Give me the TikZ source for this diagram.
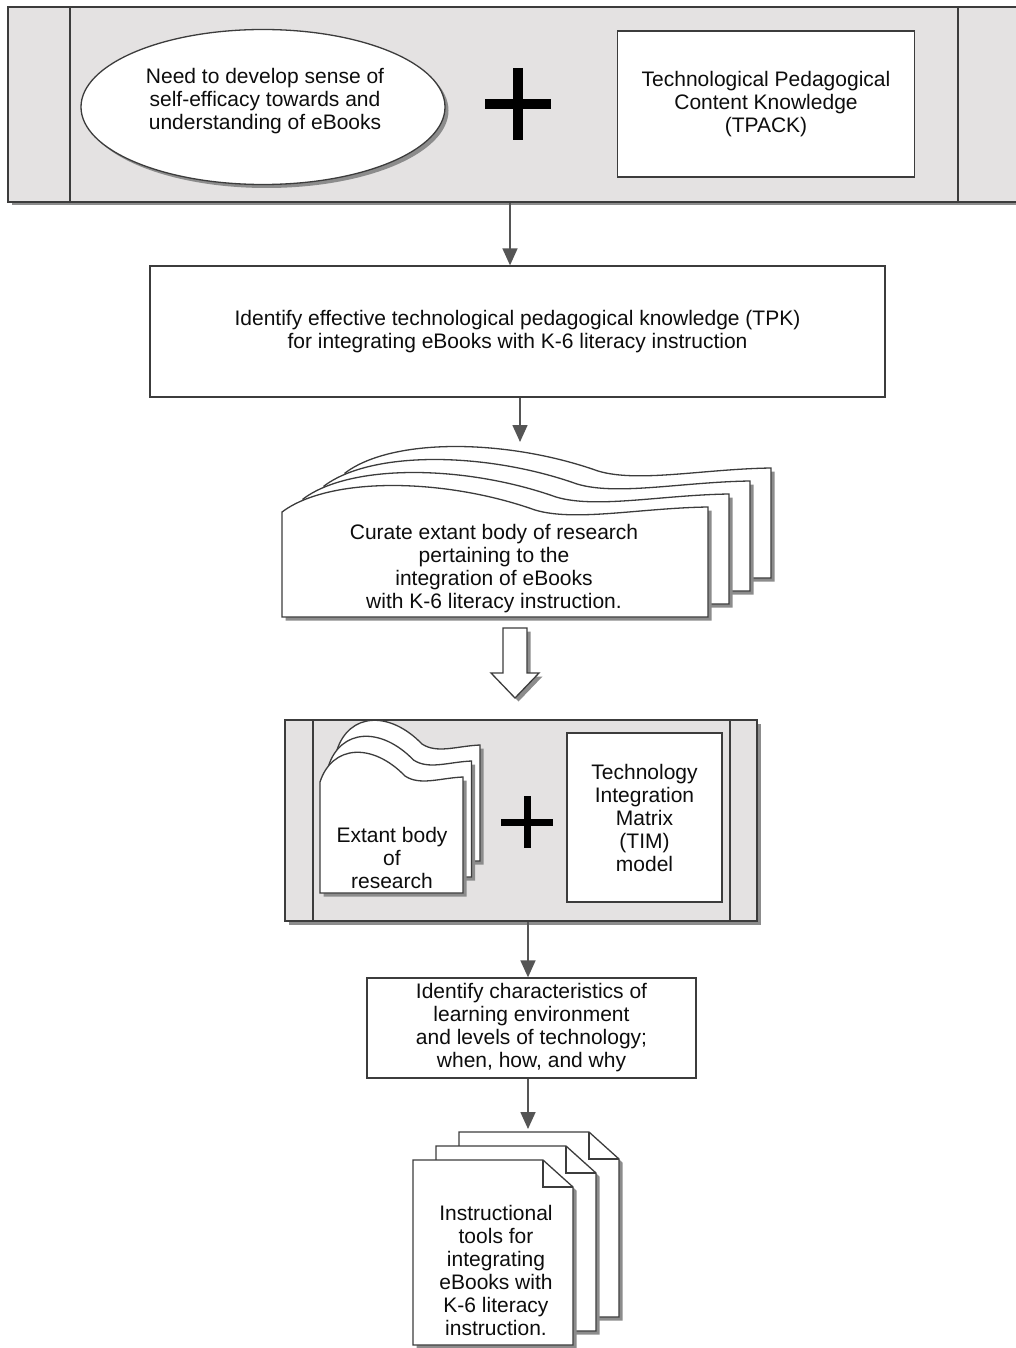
\documentclass[tikz,border=0pt]{standalone}
\usepackage{fontspec}
\setmainfont{Liberation Sans}
\usetikzlibrary{shapes.geometric,shadows,arrows.meta}
\definecolor{panelgray}{HTML}{E4E2E2}
\definecolor{edge}{HTML}{3C3C3C}
\definecolor{arrowgray}{HTML}{555555}
\definecolor{shade}{HTML}{8C8C8C}

\begin{document}
\begin{tikzpicture}[x=1pt,y=-1pt,
  every node/.style={font=\fontsize{21}{23}\selectfont, text=black!95, align=center, inner sep=0pt},
  outline/.style={draw=edge, line width=1.3pt},
  shadowed/.style={drop shadow={shadow xshift=3.5pt, shadow yshift=-3.5pt, fill=shade, opacity=1}},
  panel/.style={outline, fill=panelgray, shadowed},
  whitebox/.style={outline, fill=white},
  page/.style={outline, fill=white, shadowed},
  flow/.style={draw=arrowgray, line width=1.6pt, -{Triangle[length=17pt,width=15pt]}},
  plus/.style={draw=black}
]
\useasboundingbox (0,0) rectangle (1015,1348);

% ---------- top panel (runs past the right margin) ----------
\node[panel, minimum width=1020pt, minimum height=195pt] (top) at (518,104.5) {};
\draw[outline] (70,7) -- (70,202) (958,7) -- (958,202);

\node[ellipse, whitebox, shadowed, minimum width=364pt, minimum height=155pt] (need) at (263,107) {};
\node (needtxt) at (265,101) {Need to develop sense of\\self-efficacy towards and\\understanding of eBooks};

\draw[plus, line width=10pt] (485,104) -- (551,104) (518,68) -- (518,140);

\node[whitebox, minimum width=297pt, minimum height=146pt] (tpack) at (766,104)
  {Technological Pedagogical\\Content Knowledge\\(TPACK)};

% ---------- TPK box ----------
\node[whitebox, minimum width=735pt, minimum height=131pt] (tpk) at (517.5,331.5)
  {Identify effective technological pedagogical knowledge (TPK)\\for integrating eBooks with K-6 literacy instruction};
\draw[flow] ([xshift=-8pt]top.south) -- ([xshift=-7.5pt]tpk.north);

% ---------- stack of research pages ----------
\foreach \i in {3,2,1,0}{
  \begin{scope}[shift={(21*\i,-13*\i)}]
    \path[page] (282,617) -- (282,512)
      .. controls (330,476) and (445,478) .. (535,510)
      .. controls (575,522) and (640,508) .. (708,507) -- (708,617) -- cycle;
  \end{scope}}
\coordinate (stacktop) at (520,442);
\node (curate) at (494,569)
  {Curate extant body of research\\pertaining to the\\integration of eBooks\\with K-6 literacy instruction.};
\draw[flow] (tpk.south -| stacktop) -- (stacktop);

% hollow block arrow
\coordinate (blocktop) at (515,628);
\path[page] ([xshift=-12pt]blocktop) -- ([xshift=12pt]blocktop) -- ++(0,45) -- ++(12,0)
  -- (515,698) coordinate (blocktip) -- (491,673) -- (503,673) -- cycle;

% ---------- middle panel ----------
\node[panel, minimum width=472pt, minimum height=201pt] (mid) at (521,820.5) {};
\draw[outline] (313,720) -- (313,921) (730,720) -- (730,921);

\foreach \i in {2,1,0}{
  \begin{scope}[shift={(8.5*\i,-16*\i)}]
    \path[page] (320,893) -- (320,782)
      .. controls (332,745) and (372,742) .. (405,776)
      .. controls (420,786) and (440,778) .. (463,777) -- (463,893) -- cycle;
  \end{scope}}
\node (extant) at (392,858) {Extant body\\of\\research};

\draw[plus, line width=7pt] (501,822) -- (553,822) (527,796) -- (527,848);

\node[whitebox, minimum width=155pt, minimum height=169pt] (tim) at (644.5,817.5)
  {Technology\\Integration\\Matrix\\(TIM)\\model};

% ---------- characteristics box ----------
\node[whitebox, minimum width=329pt, minimum height=100pt] (chars) at (531.5,1028)
  {Identify characteristics of\\learning environment\\and levels of technology;\\when, how, and why};
\draw[flow] ([xshift=7pt]mid.south) -- ([xshift=-3.5pt]chars.north);

% ---------- stack of tool documents ----------
\foreach \i in {2,1,0}{
  \begin{scope}[shift={(23*\i,-14*\i)}]
    \path[page] (413,1345) -- (413,1160) -- (543,1160) -- (573,1187) -- (573,1345) -- cycle;
    \draw[outline] (543,1160) -- (543,1187) -- (573,1187);
  \end{scope}}
\coordinate (toolstop) at (528,1129);
\node (tools) at (496,1270)
  {Instructional\\tools for\\integrating\\eBooks with\\K-6 literacy\\instruction.};
\draw[flow] ([xshift=-3.5pt]chars.south) -- (toolstop);
\end{tikzpicture}
\end{document}
